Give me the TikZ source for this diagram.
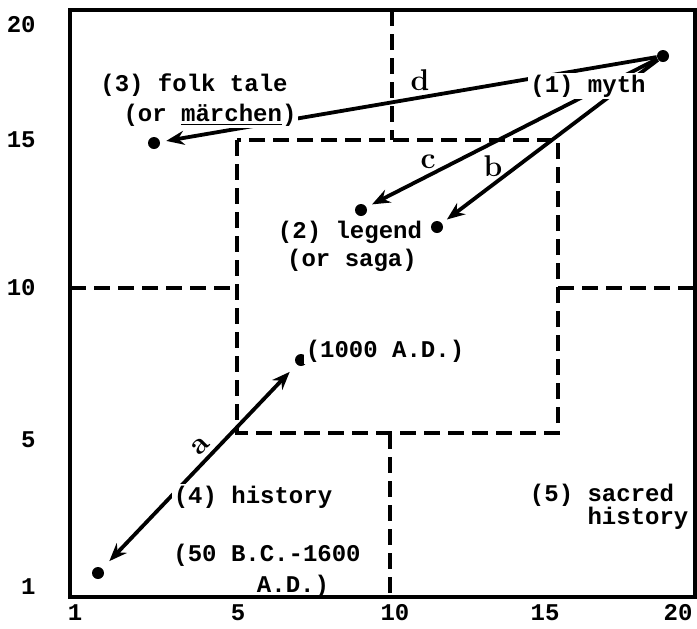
\documentclass[tikz,border=0pt]{standalone}
\usepackage{fontspec}
\setmonofont{Liberation Mono}
\usepackage{tikz}
\usetikzlibrary{arrows.meta}

\tikzset{
  frame/.style={line width=2.2pt},
  zone/.style={line width=1.8pt,dash pattern=on 8pt off 4pt},
  dot/.style={circle,fill,inner sep=0pt,minimum size=6pt},
  link/.style={line width=1.9pt,-{Stealth[length=9pt,width=7pt]},shorten >=3pt},
  lbl/.style={font=\ttfamily\bfseries\fontsize{12}{14}\selectfont,fill=white,inner sep=1pt},
  tick/.style={font=\ttfamily\bfseries\fontsize{12}{14}\selectfont,inner sep=1pt},
  hand/.style={font=\bfseries\fontsize{15}{17}\selectfont,inner sep=0pt}
}

\begin{document}
\begin{tikzpicture}[x=0.5pt,y=-0.5pt]
  \useasboundingbox (0,0) rectangle (697,628);

  % Zone borders
  \draw[zone] (392,10) -- (392,140);
  \draw[zone] (237,140) rectangle (558,433);
  \draw[zone] (70,288) -- (237,288);
  \draw[zone] (558,288) -- (695,288);
  \draw[zone] (390,433) -- (390,597);

  % Points
  \node[dot] (mythdot) at (663,56) {};
  \node[dot] (folkdot) at (154,143) {};
  \node[dot] (sagadot) at (361,210) {};
  \node[dot] (legenddot) at (437,227) {};
  \node[dot] (addot) at (301,360) {};
  \node[dot] (histdot) at (98,573) {};

  % Paths
  \draw[link] (mythdot) -- (folkdot);
  \draw[link] (mythdot) -- (sagadot);
  \draw[link] (mythdot) -- (legenddot);
  \draw[link,{Stealth[length=9pt,width=7pt]}-{Stealth[length=9pt,width=7pt]},shorten <=5pt,shorten >=5pt] (histdot) -- (addot);

  % Path letters
  \node[hand] (d) at (420,80) {d};
  \node[hand] (c) at (428,162) {c};
  \node[hand] (b) at (493,166) {b};
  \node[hand,rotate=45] (a) at (201,446) {a};

  % Labels
  \node[lbl] (myth) at (588,86) {(1) myth};
  \node[lbl] (folk) at (194,85) {(3) folk tale};
  \node[lbl] (marchen) at (210,115) {(or \underline{märchen})};
  \node[lbl] (legend) at (350,232) {(2) legend};
  \node[lbl] (saga) at (352,260) {(or saga)};
  \node[lbl] (ad) at (385,351) {(1000 A.D.)};
  \node[lbl] (history) at (253,497) {(4) history};
  \node[lbl,anchor=west] (era) at (171,555) {(50 B.C.-1600};
  \node[lbl] (era2) at (293,586) {A.D.)};
  \node[lbl] (sacred) at (602,495) {(5) sacred};
  \node[lbl] (sacred2) at (638,518) {history};

  % Frame and scale
  \draw[frame] (70,10) rectangle (695,597);
  \foreach \v/\y in {20/25,15/140,10/288,5/440,1/587}
    \node[tick,anchor=east] at (38,\y) {\v};
  \foreach \v/\x in {1/75,5/238,10/395,15/545,20/678}
    \node[tick] at (\x,613) {\v};
\end{tikzpicture}
\end{document}
